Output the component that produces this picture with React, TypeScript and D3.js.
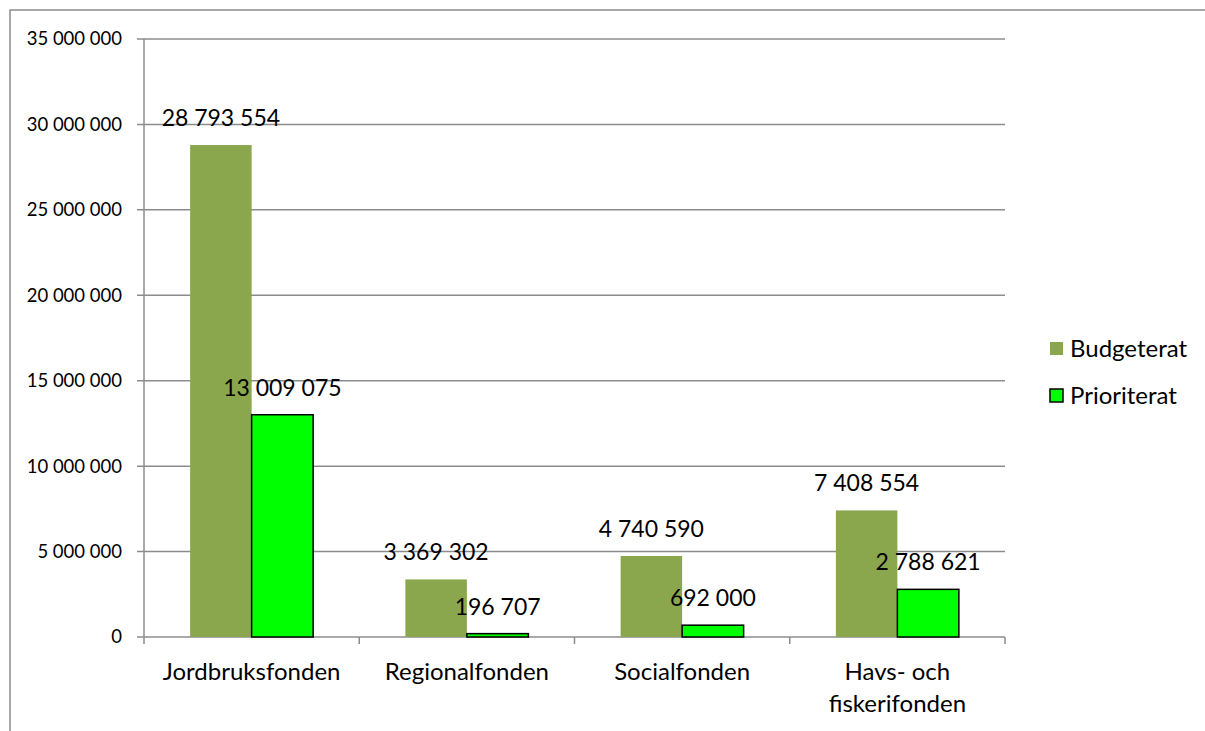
import React from "react";
import * as d3 from "d3";

const categories = [["Jordbruksfonden"], ["Regionalfonden"], ["Socialfonden"], ["Havs- och", "fiskerifonden"]];
const budgeterat = [28793554, 3369302, 4740590, 7408554];
const prioriterat = [13009075, 196707, 692000, 2788621];
const seriesNames = ["Budgeterat", "Prioriterat"];
const yTicks = [0, 5000000, 10000000, 15000000, 20000000, 25000000, 30000000, 35000000];

const width = 1205;
const height = 731;
const margin = { left: 144, right: 200, top: 39, bottom: 94 };
const font = "Lato, 'Open Sans', sans-serif";
const gridColor = "#8c8c8c";
const colors = ["#8ba74e", "#00ff00"];

// swedish style thousands: space separated
const fmt = (v: number) => d3.format(",")(v).replace(/,/g, " ");

export default function App() {
  const x = d3
    .scaleBand()
    .domain(categories.map((_, i) => String(i)))
    .range([margin.left, width - margin.right])
    .paddingInner(0)
    .paddingOuter(0);
  const inner = d3
    .scaleBand()
    .domain(seriesNames)
    .range([0, x.bandwidth()])
    .paddingInner(0)
    .paddingOuter(0.75);
  const y = d3.scaleLinear().domain([0, 35000000]).range([height - margin.bottom, margin.top]);

  const series = [budgeterat, prioriterat];
  const x0 = margin.left;
  const x1 = width - margin.right;

  return (
    <svg width={width} height={height} style={{ position: "absolute", left: 0, top: 0 }}>
      <rect x={10} y={10} width={width} height={height} fill="white" stroke={gridColor} strokeWidth={1.5} />

      {yTicks.map((t) => (
        <g key={t}>
          <line x1={x0 - 7} x2={x1} y1={y(t)} y2={y(t)} stroke={gridColor} strokeWidth={1.5} />
          <text x={122} y={y(t)} dy="0.35em" textAnchor="end" fontFamily={font} fontSize={18.5}>
            {fmt(t)}
          </text>
        </g>
      ))}
      <line x1={x0} x2={x0} y1={margin.top} y2={y(0) + 7} stroke={gridColor} strokeWidth={1.5} />
      {categories.map((_, i) => (
        <line key={i} x1={x(String(i))! + x.bandwidth()} x2={x(String(i))! + x.bandwidth()} y1={y(0)} y2={y(0) + 7} stroke={gridColor} strokeWidth={1.5} />
      ))}

      {categories.map((lines, i) => (
        <g key={i}>
          {series.map((vals, s) => {
            const bx = x(String(i))! + inner(seriesNames[s])!;
            const bw = inner.bandwidth();
            return (
              <g key={s}>
                <rect
                  x={bx}
                  y={y(vals[i])}
                  width={bw}
                  height={y(0) - y(vals[i])}
                  fill={colors[s]}
                  stroke={s === 1 ? "#000" : "none"}
                  strokeWidth={1.5}
                />
                <text x={bx + bw / 2} y={y(vals[i]) - 19} textAnchor="middle" fontFamily={font} fontSize={23}>
                  {fmt(vals[i])}
                </text>
              </g>
            );
          })}
          {lines.map((l, k) => (
            <text
              key={k}
              x={x(String(i))! + x.bandwidth() / 2}
              y={680 + k * 32}
              textAnchor="middle"
              fontFamily={font}
              fontSize={24}
            >
              {l}
            </text>
          ))}
        </g>
      ))}

      {seriesNames.map((n, s) => (
        <g key={n} transform={`translate(1050, ${342 + s * 47})`}>
          <rect x={0} y={0} width={13} height={13} fill={colors[s]} stroke={s === 1 ? "#000" : "none"} strokeWidth={1.5} />
          <text x={20} y={7} dy="0.35em" fontFamily={font} fontSize={24}>
            {n}
          </text>
        </g>
      ))}
    </svg>
  );
}
